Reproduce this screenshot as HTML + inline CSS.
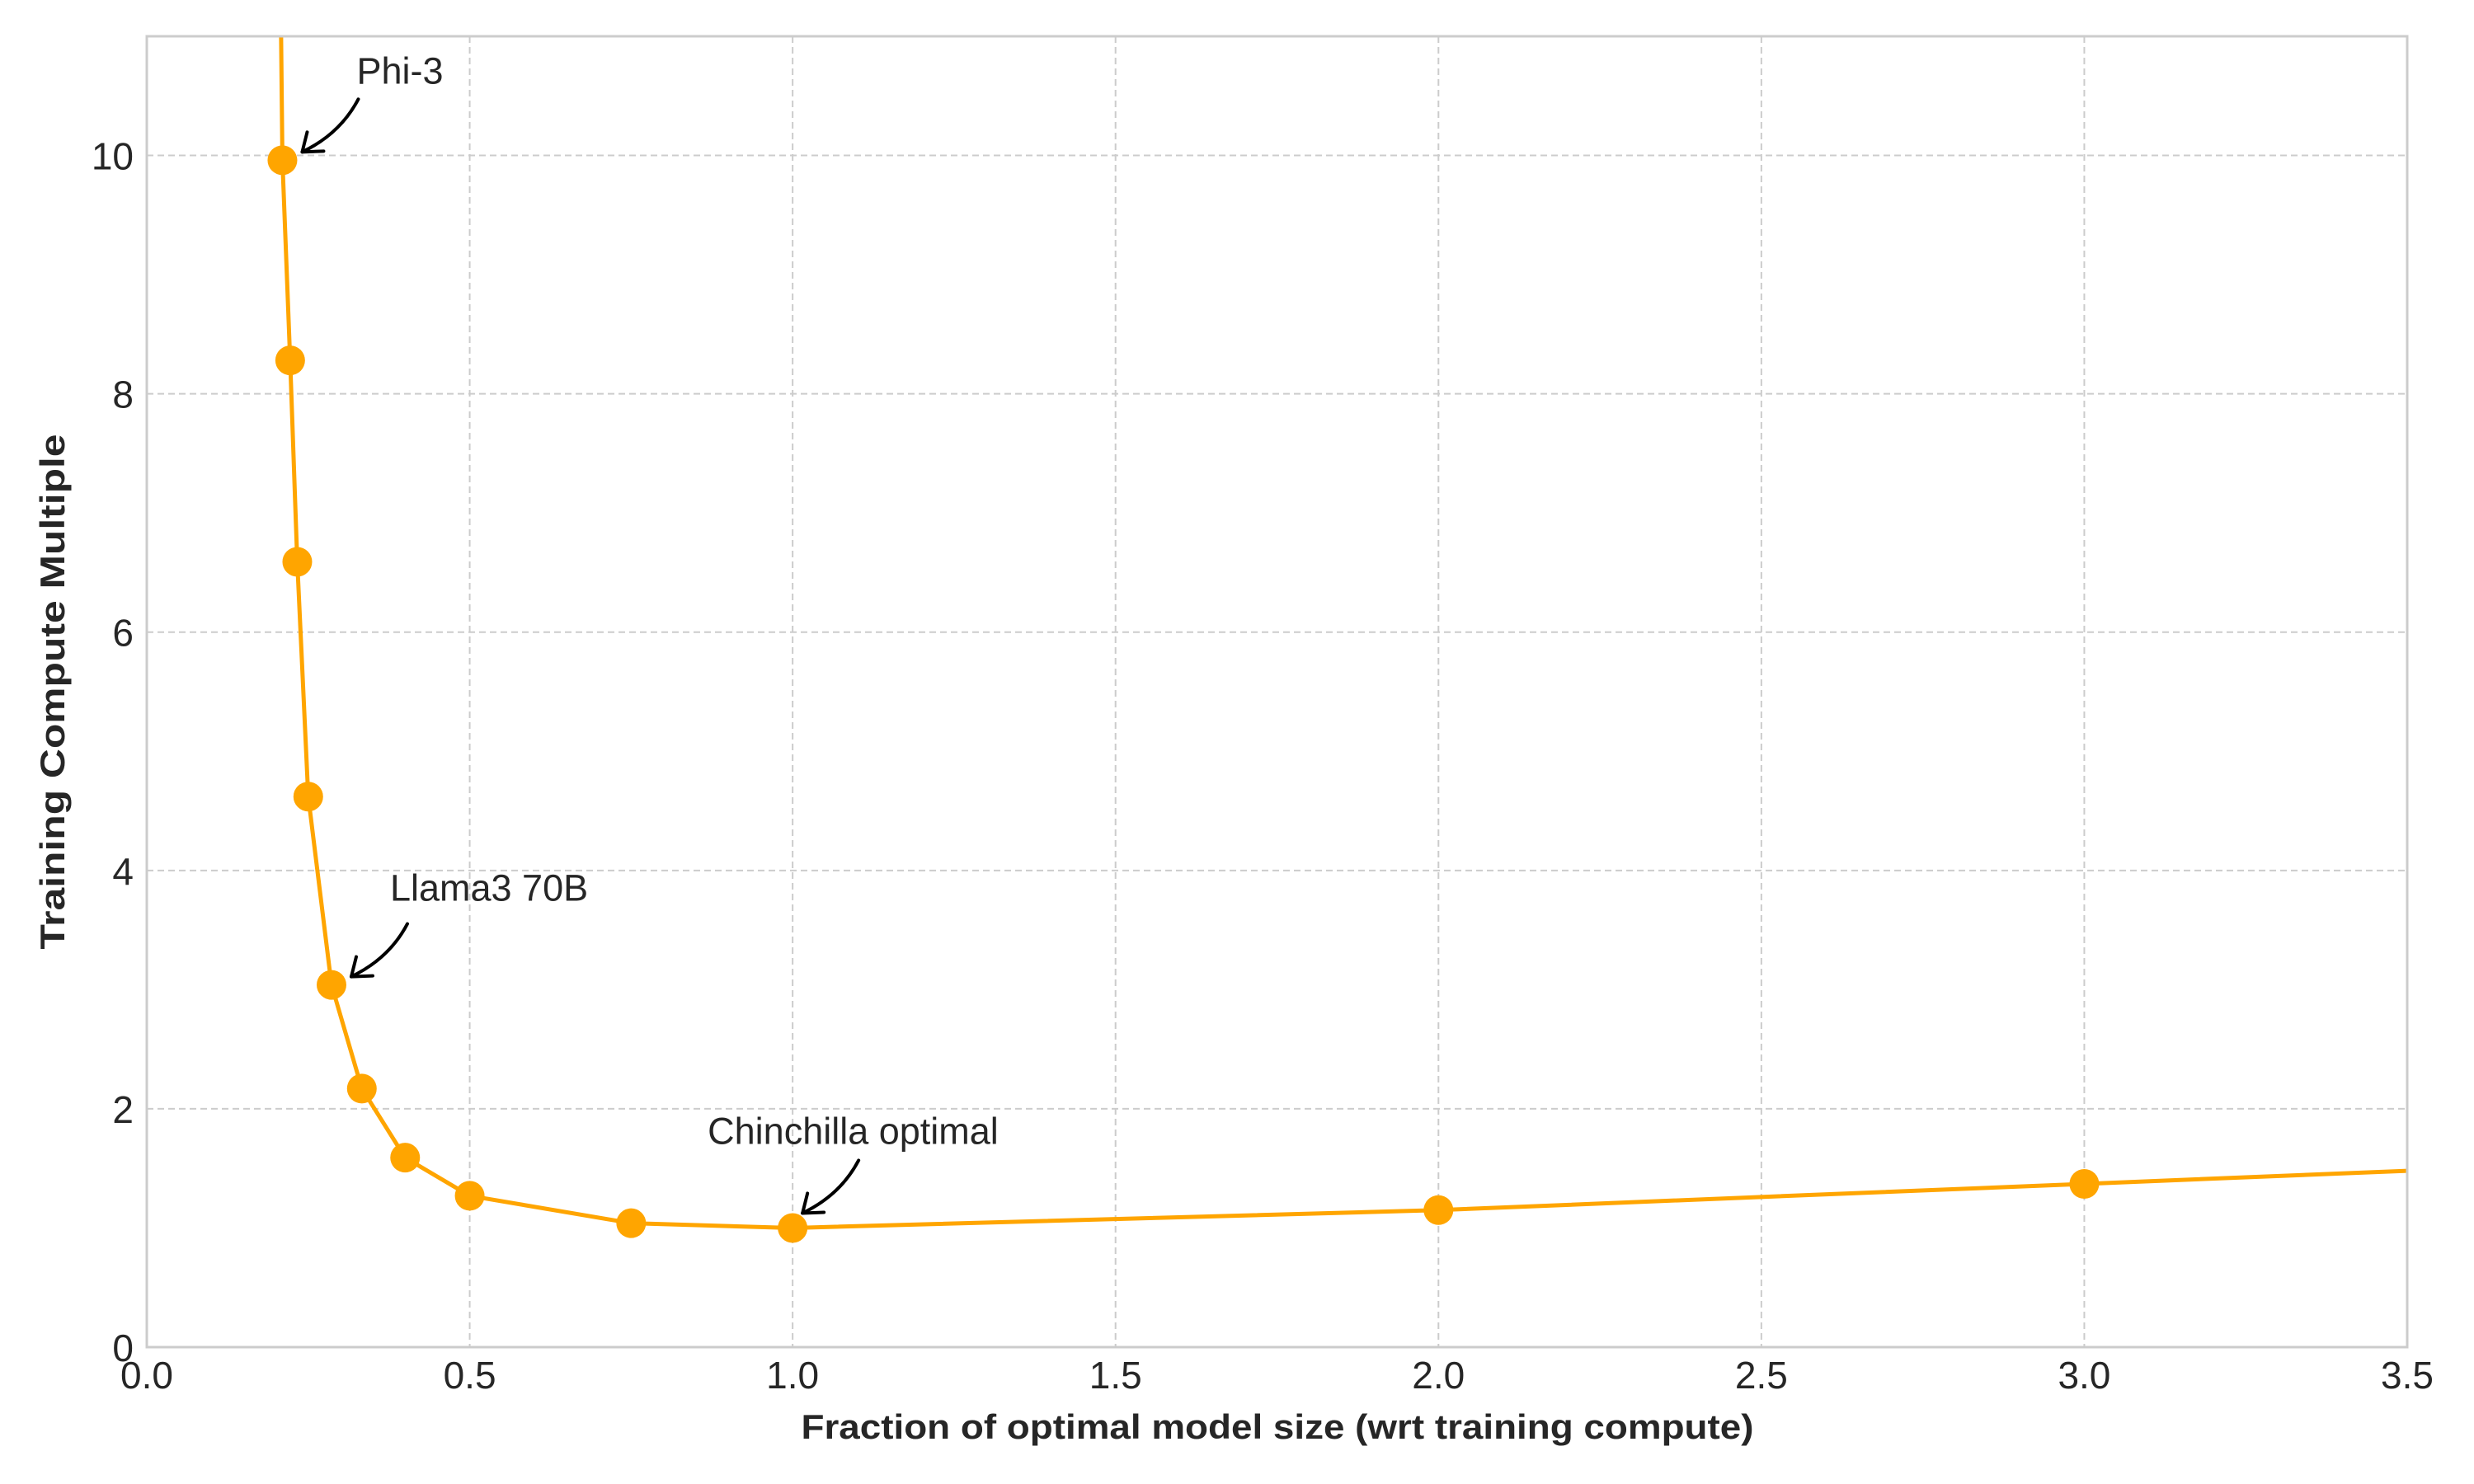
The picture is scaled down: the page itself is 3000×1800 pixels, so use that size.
<!DOCTYPE html>
<html><head><meta charset="utf-8"><style>
html,body{margin:0;padding:0;background:#fff;}
svg{display:block;font-family:"Liberation Sans",Arial,sans-serif;}
</style></head><body>
<svg id="chart" width="3000" height="1800" viewBox="0 0 3000 1800" xmlns="http://www.w3.org/2000/svg">
<rect x="178" y="44" width="2741" height="1590" fill="#fff"/>
<g id="grid"></g>
<g id="series"></g>
<rect x="178" y="44" width="2741" height="1590" fill="none" stroke="#cccccc" stroke-width="3"/>
<g id="ticks"></g>
<text x="1549" y="1745" text-anchor="middle" font-size="42" font-weight="bold" fill="#262626" textLength="1155" lengthAdjust="spacingAndGlyphs">Fraction of optimal model size (wrt training compute)</text>
<text transform="translate(78,839) rotate(-90)" text-anchor="middle" font-size="42" font-weight="bold" fill="#262626" textLength="625" lengthAdjust="spacingAndGlyphs">Training Compute Multiple</text>
<g id="annotations"></g>
</svg>
<script>
const xTicks = [0,0.5,1.0,1.5,2.0,2.5,3.0,3.5];
const xTickLabels = ["0.0","0.5","1.0","1.5","2.0","2.5","3.0","3.5"];
const yTicks = [0,2,4,6,8,10];
const yTickLabels = ["0","2","4","6","8","10"];
const modelFraction = [0.21,0.222,0.233,0.25,0.286,0.333,0.4,0.5,0.75,1.0,2.0,3.0];
const computeMultiple = [9.96,8.28,6.59,4.62,3.04,2.17,1.59,1.27,1.04,1.0,1.15,1.37];
const lineFraction = [0.205,0.21,0.222,0.233,0.25,0.286,0.333,0.4,0.5,0.75,1.0,2.0,3.0,3.5];
const lineMultiple = [12.5,9.96,8.28,6.59,4.62,3.04,2.17,1.59,1.27,1.04,1.0,1.15,1.37,1.48];
const annLabels = ["Phi-3","Llama3 70B","Chinchilla optimal"];
const annX = [0.21,0.286,1.0];
const annY = [9.96,3.04,1.0];

const L=178,R=2919,T=44,B=1634;
const sx=v=>L+(v-0)/(3.5-0)*(R-L);
const sy=v=>B-(v-0)/(11-0)*(B-T);
const NS="http://www.w3.org/2000/svg";
function mk(tag,attrs,parent){const e=document.createElementNS(NS,tag);for(const k in attrs)e.setAttribute(k,attrs[k]);parent.appendChild(e);return e;}
const grid=document.getElementById('grid'),ticks=document.getElementById('ticks');
xTicks.forEach((v,i)=>{
  const g=mk('line',{x1:sx(v),x2:sx(v),y1:T,y2:B,stroke:'#cccccc','stroke-width':2,'stroke-dasharray':'8,5'},grid);
  
  
  const t=mk('text',{x:sx(v),y:1684,'text-anchor':'middle','font-size':46,fill:'#262626'},ticks);
  t.textContent=xTickLabels[i];
  
  
});
yTicks.forEach((v,i)=>{
  const g=mk('line',{x1:L,x2:R,y1:sy(v),y2:sy(v),stroke:'#cccccc','stroke-width':2,'stroke-dasharray':'8,5'},grid);
  
  
  const t=mk('text',{x:162,y:sy(v)+17,'text-anchor':'end','font-size':46,fill:'#262626'},ticks);
  t.textContent=yTickLabels[i];
  
  
});
const series=document.getElementById('series');
const clip=mk('clipPath',{id:'pc'},series);
mk('rect',{x:L,y:T,width:R-L,height:B-T},clip);
const pts=lineFraction.map((v,i)=>sx(v)+','+sy(lineMultiple[i])).join(' ');
const pl=mk('polyline',{points:pts,fill:'none',stroke:'#FFA500','stroke-width':5,'clip-path':'url(#pc)','stroke-linejoin':'round'},series);


modelFraction.forEach((v,i)=>{
  const c=mk('circle',{cx:sx(v),cy:sy(computeMultiple[i]),r:18,fill:'#FFA500'},series);
  
  
});
const ann=document.getElementById('annotations');
const textDx=[90,71,-103];
annLabels.forEach((s,i)=>{
  const px=sx(annX[i]),py=sy(annY[i]);
  const ax=px+(i==2?12:24),ay=py-(i==2?18:10);
  const tx=ax+68,ty=ay-64;
  const p=mk('path',{d:`M${tx},${ty} Q${tx-22},${ty+42} ${ax},${ay}`,fill:'none',stroke:'#000','stroke-width':4,'stroke-linecap':'round'},ann);
  
  
  const h=mk('path',{d:`M${ax+6},${ay-24} L${ax},${ay} L${ax+26},${ay-1}`,fill:'none',stroke:'#000','stroke-width':4,'stroke-linecap':'round','stroke-linejoin':'round'},ann);
  
  
  const t=mk('text',{x:px+textDx[i],y:py-(i==0?93:102),'font-size':45,fill:'#262626'},ann);
  t.textContent=s;
  
  
});
</script>
</body></html>
